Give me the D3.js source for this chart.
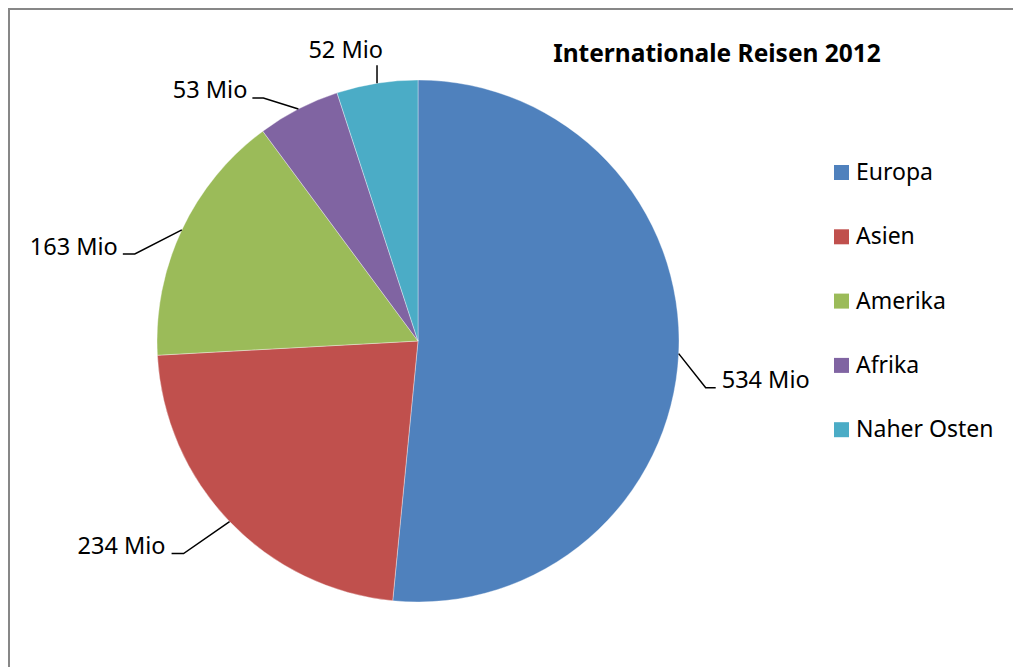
<!DOCTYPE html>
<html>
<head>
<meta charset="utf-8">
<script src="https://cdn.jsdelivr.net/npm/d3@7"></script>
<style>
  html, body { margin: 0; padding: 0; background: #fff; }
  svg { display: block; }
  text { font-family: "Noto Sans", "Open Sans", sans-serif; fill: #000; }
</style>
</head>
<body>
<svg id="chart" width="1013" height="667"></svg>
<script>
// ---- data ----
const categories = ["Europa", "Asien", "Amerika", "Afrika", "Naher Osten"];
const values = [534, 234, 163, 53, 52];
const valueLabels = ["534 Mio", "234 Mio", "163 Mio", "53 Mio", "52 Mio"];
const colors = ["#4F81BD", "#C0504D", "#9BBB59", "#8064A2", "#4BACC6"];
const title = "Internationale Reisen 2012";

// ---- layout of leader lines (offsets from slice edge midpoint) ----
const leaderElbow = [[27, 34], [-46, 32], [-47, 24], [-35, -11], [0, -18]];
const leaderStub = [10, -12, -12, -11, 0];
const labelShift = [[6, 0], [-6, 0], [-5, 1], [-5, 0], [6, -7]];

const svg = d3.select("#chart");
const W = 1013, H = 667;

// frame
svg.append("rect")
  .attr("x", 9).attr("y", 9)
  .attr("width", W + 20).attr("height", H + 20)
  .attr("fill", "none").attr("stroke", "#878787").attr("stroke-width", 2);

const cx = 418, cy = 341, r = 261;
const g = svg.append("g").attr("transform", `translate(${cx},${cy})`);

const pie = d3.pie().sort(null).value(d => d)(values);
const arc = d3.arc().innerRadius(0).outerRadius(r);

g.selectAll("path.slice")
  .data(pie)
  .join("path")
  .attr("class", "slice")
  .attr("d", arc)
  .attr("fill", (d, i) => colors[i])
  .attr("stroke", "#ffffff")
  .attr("stroke-width", 0.6)
  .attr("stroke-opacity", 0.6);

// leader lines & labels
pie.forEach((d, i) => {
  const a = (d.startAngle + d.endAngle) / 2;
  const p0 = [r * Math.sin(a), -r * Math.cos(a)];
  const p1 = [p0[0] + leaderElbow[i][0], p0[1] + leaderElbow[i][1]];
  const p2 = [p1[0] + leaderStub[i], p1[1]];
  g.append("polyline")
    .attr("points", [p0, p1, p2].map(p => p.join(",")).join(" "))
    .attr("fill", "none")
    .attr("stroke", "#000")
    .attr("stroke-width", 1.5);
  const anchor = (p2[0] - p1[0] > 0 || (i === 0)) ? "start" : "end";
  g.append("text")
    .attr("x", p2[0] + labelShift[i][0])
    .attr("y", p2[1] + labelShift[i][1])
    .attr("text-anchor", anchor)
    .attr("font-size", 23.5)
    .text(valueLabels[i]);
});

// title
svg.append("text")
  .attr("x", 717).attr("y", 62)
  .attr("text-anchor", "middle")
  .attr("font-size", 24.5)
  .attr("font-weight", "bold")
  .text(title);

// legend
const leg = svg.append("g").attr("transform", "translate(834,165)");
const rows = leg.selectAll("g").data(categories).join("g")
  .attr("transform", (d, i) => `translate(0,${i * 64.3})`);
rows.append("rect")
  .attr("width", 15).attr("height", 15)
  .attr("fill", (d, i) => colors[i]);
rows.append("text")
  .attr("x", 22).attr("y", 15)
  .attr("font-size", 23)
  .text(d => d);
</script>
</body>
</html>
